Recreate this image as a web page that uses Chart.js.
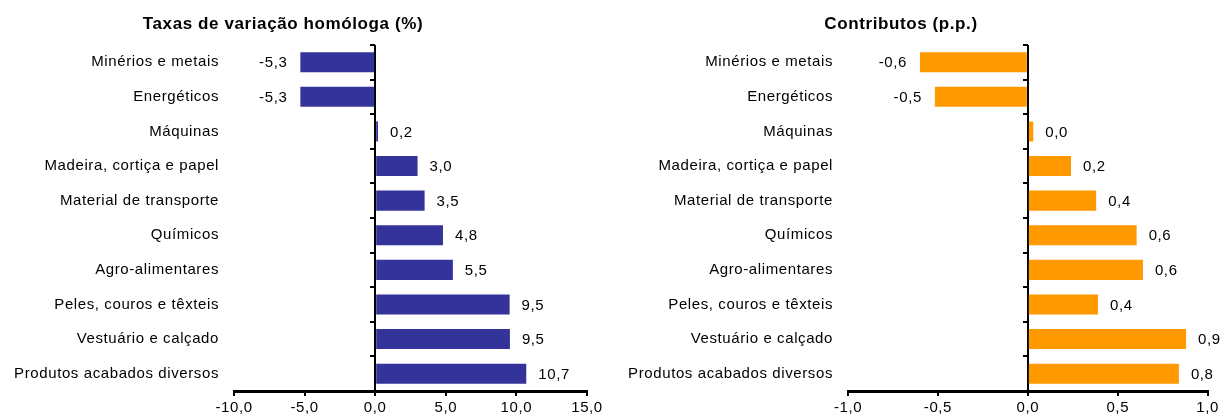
<!DOCTYPE html>
<html>
<head>
<meta charset="utf-8">
<script src="https://cdn.jsdelivr.net/npm/chart.js@4"></script>
<style>
    body { margin: 0; background: #fff; }
    .box { position: absolute; top: 0; height: 416px; }
    #leftBox { left: 0; width: 606px; }
    #rightBox { left: 606px; width: 616px; }
</style>
</head>
<body>
<div class="box" id="leftBox"><canvas id="rateChart"></canvas></div>
<div class="box" id="rightBox"><canvas id="contribChart"></canvas></div>
<script>
const categories = [
    'Minérios e metais',
    'Energéticos',
    'Máquinas',
    'Madeira, cortiça e papel',
    'Material de transporte',
    'Químicos',
    'Agro-alimentares',
    'Peles, couros e têxteis',
    'Vestuário e calçado',
    'Produtos acabados diversos'
];

// Taxas de variação homóloga (%)
const rateValues = [-5.3, -5.3, 0.2, 3.0, 3.5, 4.8, 5.5, 9.52, 9.54, 10.7];
// Contributos (p.p.)
const contribValues = [-0.6, -0.517, 0.03, 0.24, 0.38, 0.605, 0.64, 0.39, 0.88, 0.84];

const rateTicks = { min: -10, max: 15, step: 5 };
const contribTicks = { min: -1, max: 1, step: 0.5 };

const FONT = '"Liberation Sans", Arial, sans-serif';

Chart.defaults.font.family = FONT;
Chart.defaults.font.size = 15;
Chart.defaults.color = '#000';

function fmt(v) {
    return v.toFixed(1).replace('.', ',');
}

// Excel-like wide text
const spacing = {
    id: 'spacing',
    beforeUpdate(chart) { chart.ctx.letterSpacing = '0.6px'; },
    beforeDraw(chart) { chart.ctx.letterSpacing = '0.6px'; }
};

// value labels next to the bars
const valueLabels = {
    id: 'valueLabels',
    afterDatasetsDraw(chart) {
        const ctx = chart.ctx;
        const meta = chart.getDatasetMeta(0);
        const values = chart.data.datasets[0].data;
        ctx.save();
        ctx.font = '15px ' + FONT;
        ctx.fillStyle = '#000';
        ctx.textBaseline = 'middle';
        meta.data.forEach((bar, i) => {
            const v = values[i];
            const neg = v < 0;
            ctx.textAlign = neg ? 'right' : 'left';
            ctx.fillText(fmt(v), bar.x + (neg ? -13 : 12), bar.y + 1);
        });
        ctx.restore();
    }
};

function makeChart(id, title, values, color, range, padLeft, padRight) {
    const ctx = document.getElementById(id).getContext('2d');
    return new Chart(ctx, {
        type: 'bar',
        data: {
            labels: categories,
            datasets: [{
                data: values,
                backgroundColor: color,
                borderWidth: 0,
                barPercentage: 0.58,
                categoryPercentage: 1,
                xAxisID: 'x',
                yAxisID: 'y'
            }]
        },
        options: {
            indexAxis: 'y',
            responsive: true,
            maintainAspectRatio: false,
            animation: false,
            layout: {
                padding: { left: padLeft, right: padRight, top: 0, bottom: 0 }
            },
            plugins: {
                legend: { display: false },
                tooltip: { enabled: false },
                title: {
                    display: true,
                    text: title,
                    color: '#000',
                    font: { size: 17, weight: 'bold' },
                    padding: { top: 14.5, bottom: 10 }
                }
            },
            scales: {
                x: {
                    type: 'linear',
                    position: 'bottom',
                    z: 1,
                    min: range.min,
                    max: range.max,
                    ticks: {
                        stepSize: range.step,
                        padding: 3,
                        color: '#000',
                        callback: v => fmt(v)
                    },
                    // only the zero line is drawn across the plot
                    grid: {
                        drawOnChartArea: true,
                        drawTicks: true,
                        tickLength: 5,
                        color: c => (c.tick && c.tick.value === 0) ? '#000' : 'rgba(0,0,0,0)',
                        tickColor: '#000',
                        lineWidth: 2
                    },
                    border: { display: true, color: '#000', width: 3 },
                    afterFit(scale) { scale.height = 25; }
                },
                y: {
                    type: 'category',
                    position: 'left',
                    grid: { display: false, drawTicks: false },
                    border: { display: false },
                    ticks: { padding: 15, color: '#000', autoSkip: false },
                    afterFit(scale) { scale.width = 255; }
                },
                zero: {
                    type: 'category',
                    axis: 'y',
                    position: { x: 0 },
                    offset: true,
                    z: 1,
                    ticks: { display: false },
                    grid: {
                        offset: true,
                        drawOnChartArea: false,
                        drawTicks: true,
                        tickLength: 5,
                        color: '#000',
                        lineWidth: 2
                    },
                    border: { display: false }
                }
            }
        },
        plugins: [spacing, valueLabels]
    });
}

makeChart('rateChart', 'Taxas de variação homóloga (%)', rateValues, '#333399', rateTicks, -21, 19);
makeChart('contribChart', 'Contributos (p.p.)', contribValues, '#FF9900', contribTicks, -13, 13);
</script>
</body>
</html>
